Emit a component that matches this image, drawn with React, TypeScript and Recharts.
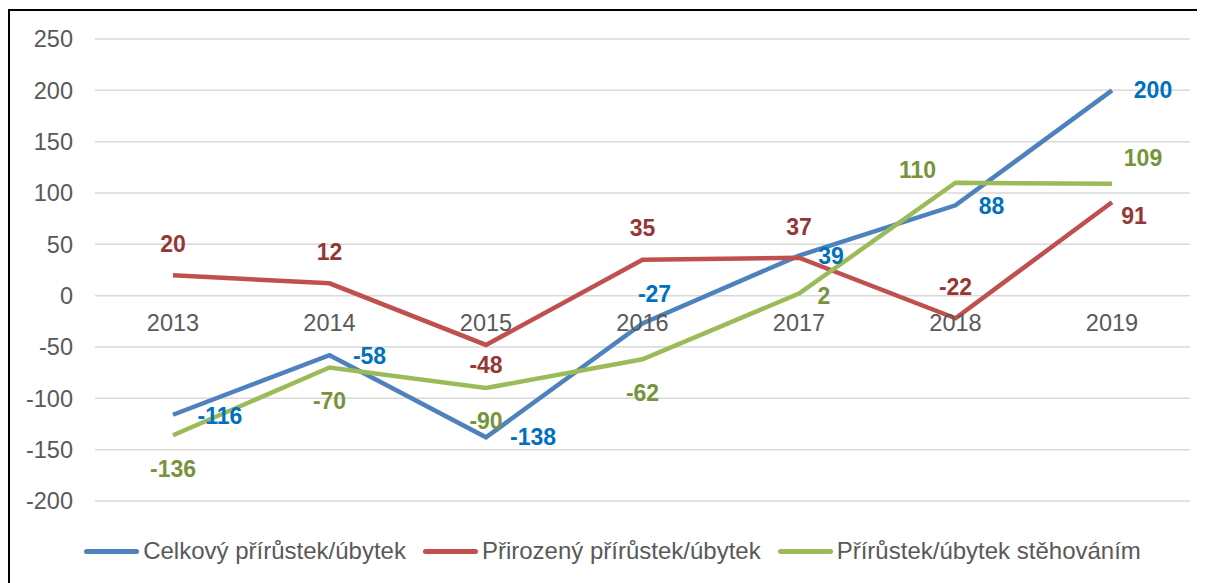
import React from 'react';
import { LineChart, Line, XAxis, YAxis, CartesianGrid, Legend, LabelList } from 'recharts';

const years = ['2013', '2014', '2015', '2016', '2017', '2018', '2019'];
const celkovy = [-116, -58, -138, -27, 39, 88, 200];
const prirozeny = [20, 12, -48, 35, 37, -22, 91];
const stehovani = [-136, -70, -90, -62, 2, 110, 109];
const yTicks = [-200, -150, -100, -50, 0, 50, 100, 150, 200, 250];

const data = years.map((year, i) => ({
  year,
  celkovy: celkovy[i],
  prirozeny: prirozeny[i],
  stehovani: stehovani[i],
}));

// label offsets (center of text relative to the point), like Excel placed them
const blueOffsets = [[47, 1], [40, 1], [47, 0], [12, -29], [32, 0], [36, 1], [41, 0]];
const redOffsets = [[0, -31], [0, -31], [0, 20], [0, -32], [0, -31], [0, -31], [22, 14]];
const greenOffsets = [[0, 34], [0, 33], [0, 33], [0, 34], [25, 2], [-38, -13], [31, -26]];

const FONT = '"Liberation Sans", Arial, sans-serif';
const WIDTH = 1195;
const HEIGHT = 572;
const MARGIN = { top: 28, right: 15, bottom: 12, left: 25 };
const PLOT_TOP = 28;
const PLOT_H = 462;
const zeroY = PLOT_TOP + (PLOT_H * 250) / 450;

const makeLabel = (offsets: number[][], color: string) => (props: any) => {
  const { x, y, value, index } = props;
  const [dx, dy] = offsets[index] || [0, 0];
  return (
    <text
      x={x + dx}
      y={y + dy}
      textAnchor="middle"
      dominantBaseline="central"
      fill={color}
      fontFamily={FONT}
      fontWeight="bold"
      fontSize={23}
    >
      {value}
    </text>
  );
};

const YearTick = (props: any) => {
  const { x, payload } = props;
  return (
    <text
      x={x}
      y={zeroY + 27}
      textAnchor="middle"
      dominantBaseline="central"
      fill="#595959"
      fontFamily={FONT}
      fontSize={23.5}
    >
      {payload.value}
    </text>
  );
};

const LegendContent = (props: any) => {
  const { payload } = props;
  return (
    <div
      style={{
        display: 'flex',
        justifyContent: 'center',
        alignItems: 'center',
        height: 40,
        fontFamily: FONT,
        fontSize: 24,
        color: '#595959',
      }}
    >
      {payload.map((entry: any, i: number) => (
        <div
          key={entry.value}
          style={{ display: 'flex', alignItems: 'center', marginRight: i < payload.length - 1 ? 17 : 0 }}
        >
          <span
            style={{
              display: 'inline-block',
              width: 55,
              height: 5,
              borderRadius: 3,
              background: entry.color,
              marginRight: 4,
            }}
          />
          <span>{entry.value}</span>
        </div>
      ))}
    </div>
  );
};

export default function App() {
  return (
    <div
      style={{
        marginTop: 1,
        width: WIDTH,
        borderTop: '2px solid #000',
        borderLeft: '2px solid #000',
      }}
    >
      <LineChart width={WIDTH} height={HEIGHT} data={data} margin={MARGIN}>
        <CartesianGrid vertical={false} stroke="#D9D9D9" strokeWidth={1.5} />
        <XAxis
          dataKey="year"
          axisLine={false}
          tickLine={false}
          height={30}
          padding={{ left: 78, right: 78 }}
          tick={<YearTick />}
          interval={0}
        />
        <YAxis
          domain={[-200, 250]}
          ticks={yTicks}
          axisLine={false}
          tickLine={false}
          tickSize={0}
          tickMargin={22}
          width={60}
          tick={{ fill: '#595959', fontFamily: FONT, fontSize: 23.5 }}
        />
        <Legend verticalAlign="bottom" height={40} content={<LegendContent />} />
        <Line
          dataKey="celkovy"
          name="Celkový přírůstek/úbytek"
          stroke="#4F81BD"
          strokeWidth={4.5}
          dot={false}
          isAnimationActive={false}
        >
          <LabelList dataKey="celkovy" content={makeLabel(blueOffsets, '#0070C0')} />
        </Line>
        <Line
          dataKey="prirozeny"
          name="Přirozený přírůstek/úbytek"
          stroke="#C0504D"
          strokeWidth={4.5}
          dot={false}
          isAnimationActive={false}
        >
          <LabelList dataKey="prirozeny" content={makeLabel(redOffsets, '#953735')} />
        </Line>
        <Line
          dataKey="stehovani"
          name="Přírůstek/úbytek stěhováním"
          stroke="#9BBB59"
          strokeWidth={4.5}
          dot={false}
          isAnimationActive={false}
        >
          <LabelList dataKey="stehovani" content={makeLabel(greenOffsets, '#77933C')} />
        </Line>
      </LineChart>
    </div>
  );
}
